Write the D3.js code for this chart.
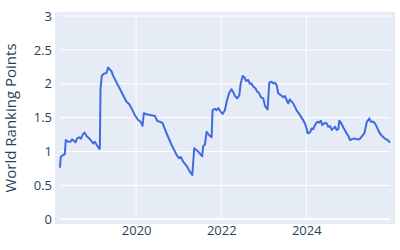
<!DOCTYPE html>
<html>
<head>
<meta charset="utf-8">
<script src="https://cdn.jsdelivr.net/npm/d3@7"></script>
<style>
  body { margin: 0; background: #fff; }
  text { font-family: "Open Sans", verdana, arial, sans-serif; fill: #2a3f5f; }
</style>
</head>
<body>
<main></main>
<script>
var dates = [
  '2018-03-18','2018-03-24','2018-04-13','2018-04-28','2018-05-07','2018-05-26','2018-06-16','2018-06-30',
  '2018-07-14','2018-07-29','2018-08-12','2018-08-29','2018-09-13','2018-10-03','2018-10-15','2018-11-01',
  '2018-11-29','2018-12-28','2019-01-11','2019-01-26','2019-02-17','2019-02-23','2019-03-01','2019-03-12',
  '2019-04-01','2019-04-21','2019-05-05','2019-05-20','2019-06-02','2019-06-17','2019-07-16','2019-08-13',
  '2019-09-11','2019-10-10','2019-11-01','2019-11-22','2019-12-20','2020-01-18','2020-02-08','2020-02-25',
  '2020-03-07','2020-03-30','2020-04-28','2020-06-10','2020-06-30','2020-07-23','2020-08-15','2020-09-18',
  '2020-10-31','2020-12-13','2021-01-05','2021-01-19','2021-02-08','2021-03-09','2021-04-07','2021-04-27',
  '2021-05-14','2021-06-04','2021-07-02','2021-07-21','2021-07-30','2021-08-13','2021-08-28','2021-09-19',
  '2021-10-10','2021-10-18','2021-11-07','2021-11-22','2021-12-06','2021-12-26','2022-01-12','2022-02-01',
  '2022-02-16','2022-03-09','2022-03-30','2022-04-13','2022-04-28','2022-05-18','2022-06-05','2022-06-16',
  '2022-07-04','2022-07-17','2022-08-01','2022-08-21','2022-09-04','2022-09-18','2022-10-02','2022-10-23',
  '2022-11-06','2022-11-20','2022-12-08','2022-12-27','2023-01-13','2023-02-03','2023-02-17','2023-03-09',
  '2023-03-23','2023-04-07','2023-04-21','2023-05-05','2023-05-28','2023-06-17','2023-07-02','2023-07-16',
  '2023-07-30','2023-08-13','2023-08-28','2023-09-11','2023-10-10','2023-11-07','2023-12-01','2023-12-20',
  '2024-01-04','2024-01-12','2024-02-01','2024-02-16','2024-03-01','2024-03-15','2024-04-06','2024-04-22',
  '2024-05-06','2024-05-17','2024-06-10','2024-06-24','2024-07-08','2024-07-23','2024-08-07','2024-08-20',
  '2024-09-04','2024-09-18','2024-10-02','2024-10-11','2024-10-25','2024-11-14','2024-12-05','2024-12-27',
  '2025-01-11','2025-01-25','2025-02-17','2025-03-08','2025-04-01','2025-04-21','2025-05-14','2025-05-26',
  '2025-06-04','2025-06-17','2025-06-26','2025-07-10','2025-07-30','2025-08-13','2025-08-28','2025-09-17',
  '2025-10-04','2025-10-24','2025-11-16','2025-12-01','2025-12-20'
];
var points = [
  0.76,0.92,0.95,0.96,1.17,1.145,1.145,1.18,
  1.16,1.135,1.195,1.21,1.19,1.26,1.28,1.23,
  1.185,1.12,1.145,1.10,1.04,1.04,1.93,2.12,
  2.15,2.16,2.24,2.21,2.19,2.12,2.02,1.93,
  1.83,1.735,1.70,1.64,1.54,1.465,1.44,1.38,
  1.565,1.55,1.54,1.525,1.45,1.44,1.42,1.27,
  1.10,0.95,0.90,0.92,0.85,0.79,0.70,0.655,
  1.05,1.02,0.97,0.93,1.08,1.10,1.29,1.24,
  1.21,1.61,1.63,1.61,1.64,1.59,1.555,1.61,
  1.735,1.86,1.92,1.88,1.82,1.785,1.83,2.00,
  2.115,2.10,2.045,2.055,2.00,2.005,1.96,1.93,
  1.88,1.87,1.80,1.785,1.67,1.62,2.015,2.03,
  2.005,2.015,1.98,1.86,1.83,1.80,1.82,1.76,
  1.71,1.77,1.735,1.71,1.61,1.54,1.475,1.415,
  1.34,1.27,1.28,1.34,1.33,1.39,1.44,1.425,
  1.455,1.39,1.425,1.415,1.365,1.375,1.32,1.34,
  1.365,1.32,1.33,1.455,1.425,1.355,1.29,1.23,
  1.17,1.18,1.195,1.18,1.18,1.22,1.27,1.365,
  1.44,1.465,1.49,1.44,1.44,1.415,1.365,1.29,
  1.245,1.21,1.18,1.17,1.13
];
var yTicks = [0, 0.5, 1, 1.5, 2, 2.5, 3];
var xTickYears = [2020, 2022, 2024];

var width = 400;
var height = 250;
var parse = d3.timeParse('%Y-%m-%d');
var data = dates.map(function(d, i) { return { date: parse(d), value: points[i] }; });

var svg = d3.select('main').append('svg')
  .attr('width', width)
  .attr('height', height);

// plot background
svg.append('rect')
  .attr('x', 55).attr('y', 12)
  .attr('width', 340).attr('height', 212)
  .attr('fill', '#e5ecf6');

var x = d3.scaleTime()
  .domain(d3.extent(data, function(d) { return d.date; }))
  .range([60, 390]);

var y = d3.scaleLinear()
  .domain([0, 3])
  .range([219.3, 16]);

// grid
svg.append('g').selectAll('line.h')
  .data(yTicks)
  .enter().append('line')
  .attr('x1', 60).attr('x2', 390)
  .attr('y1', function(d) { return y(d); })
  .attr('y2', function(d) { return y(d); })
  .attr('stroke', '#fff')
  .attr('stroke-width', function(d) { return d === 0 ? 2 : 1; });

svg.append('g').selectAll('line.v')
  .data(xTickYears)
  .enter().append('line')
  .attr('x1', function(d) { return x(new Date(d, 0, 1)); })
  .attr('x2', function(d) { return x(new Date(d, 0, 1)); })
  .attr('y1', 16).attr('y2', 219.3)
  .attr('stroke', '#fff')
  .attr('stroke-width', 1);

// axes
var yAxis = d3.axisLeft(y).tickValues(yTicks).tickSize(0).tickPadding(0)
  .tickFormat(d3.format('~g'));
var gy = svg.append('g').attr('transform', 'translate(52,0)').call(yAxis);
gy.select('.domain').remove();
gy.selectAll('text').attr('font-size', 13).attr('fill', '#2a3f5f');

var xAxis = d3.axisBottom(x)
  .tickValues(xTickYears.map(function(d) { return new Date(d, 0, 1); }))
  .tickSize(0).tickPadding(0)
  .tickFormat(d3.timeFormat('%Y'));
var gx = svg.append('g').attr('transform', 'translate(0,226)').call(xAxis);
gx.select('.domain').remove();
gx.selectAll('text').attr('font-size', 13).attr('fill', '#2a3f5f');

svg.append('text')
  .attr('transform', 'translate(16,118) rotate(-90)')
  .attr('text-anchor', 'middle')
  .attr('font-size', 15)
  .text('World Ranking Points');

// line
var line = d3.line()
  .x(function(d) { return x(d.date); })
  .y(function(d) { return y(d.value); });

svg.append('path')
  .datum(data)
  .attr('d', line)
  .attr('fill', 'none')
  .attr('stroke', '#4169e1')
  .attr('stroke-width', 2)
  .attr('stroke-linejoin', 'round');
</script>
</body>
</html>
